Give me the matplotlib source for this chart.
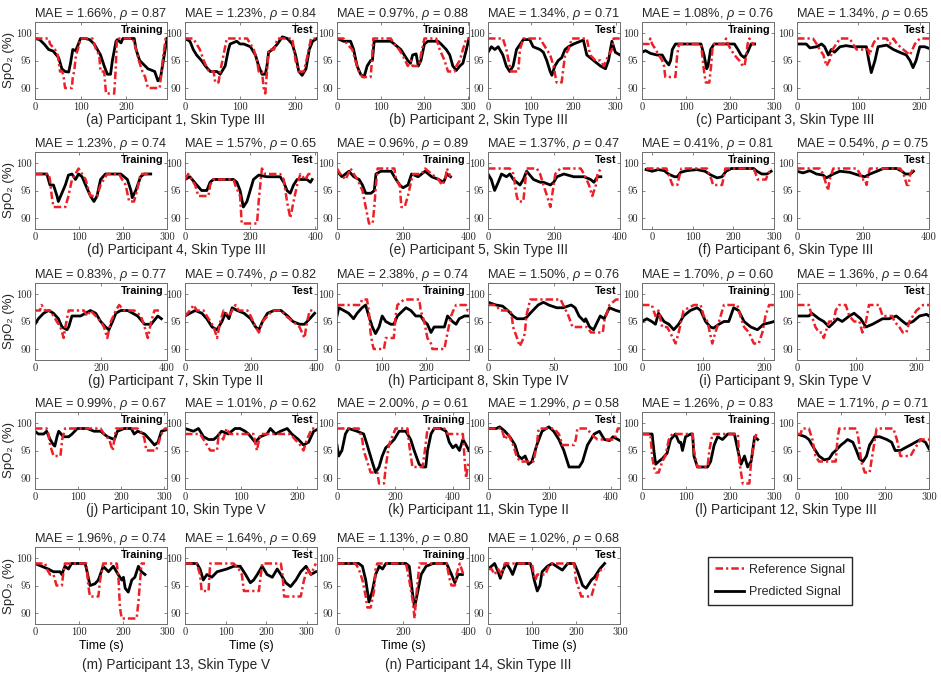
import matplotlib

matplotlib.use("Agg")
import matplotlib.pyplot as plt
from matplotlib.lines import Line2D
from matplotlib.ticker import MultipleLocator

# ---- data: (time s, SpO2 %) pairs ----
A_TRAIN_PRED = [(0, 99), (10, 98.8), (20, 98), (30, 97), (40, 96.7), (52, 95.5), (59, 93.5), (66, 93), (74, 92.9), (78, 94.5), (83, 97), (89, 96.8), (93, 97.5), (100, 99), (110, 99), (120, 98.8), (130, 98), (137, 97), (144, 96), (152, 94), (159, 92.5), (166, 92.5), (170, 95), (178, 98.5), (181, 98.8), (189, 98.2), (193, 99), (218, 99), (222, 97), (230, 95), (248, 93.5), (263, 93), (270, 91.3), (276, 92), (282, 95), (286, 97), (290, 99)]
A_TRAIN_REF = [(0, 99), (30, 99), (33, 98), (44, 97), (50, 96), (55, 93), (60, 93), (63, 92), (66, 90), (81, 90), (83, 92), (86, 93), (90, 96), (94, 97), (100, 99), (126, 99), (130, 98), (134, 97), (141, 96), (144, 93), (152, 93), (156, 89), (174, 89), (177, 93), (180, 99), (215, 99), (222, 97), (228, 95), (236, 93), (242, 92), (248, 90), (274, 90), (278, 93), (282, 96), (287, 99), (290, 99)]
A_TEST_PRED = [(0, 99), (9, 98.5), (15, 97), (21, 96), (30, 95), (37, 94), (46, 93), (58, 93), (64, 92.5), (73, 94), (79, 97), (82, 98), (94, 98.5), (100, 98), (107, 98), (119, 97.5), (128, 96), (134, 94), (140, 92.5), (146, 92.5), (149, 94), (152, 96.5), (159, 97), (168, 98), (177, 99.3), (186, 99), (195, 98), (201, 96), (207, 93), (213, 92.3), (220, 93.5), (226, 97), (232, 98.5), (240, 99)]
A_TEST_REF = [(0, 99), (15, 99), (21, 98), (27, 97), (34, 95), (43, 93), (52, 93), (55, 91), (61, 91), (64, 93), (70, 96), (76, 99), (113, 99), (119, 98), (125, 97), (131, 95), (134, 93), (140, 93), (143, 90), (146, 89), (149, 93), (152, 97), (162, 97), (165, 98), (168, 99), (195, 99), (198, 97), (201, 95), (207, 93), (216, 93), (223, 96), (229, 99), (240, 99)]

B_TRAIN_PRED = [(0, 99), (15, 98.5), (31, 98.5), (38, 97), (46, 94), (54, 92.5), (62, 92), (69, 94), (77, 95), (81, 95), (85, 98.5), (92, 98.5), (123, 98.5), (131, 98), (146, 97), (154, 96), (162, 95), (168, 94.5), (173, 96), (181, 96.2), (186, 94), (192, 95), (200, 98), (208, 98.5), (231, 98.5), (238, 98), (250, 97), (258, 96), (265, 94), (273, 93.2), (281, 94), (288, 94.5), (296, 97), (302, 99)]
B_TRAIN_REF = [(0, 99), (15, 99), (23, 98), (35, 97), (42, 95), (50, 93), (58, 92), (77, 92), (80, 95), (83, 99), (123, 99), (131, 98), (142, 97), (150, 96), (162, 94), (169, 95), (173, 94), (188, 94), (192, 96), (200, 99), (227, 99), (235, 97), (246, 95), (254, 93), (269, 93), (273, 94), (281, 95), (288, 97), (296, 99), (302, 99)]
B_TEST_PRED = [(0, 96.5), (8, 97.5), (16, 97), (24, 97.5), (35, 96), (43, 94), (51, 93), (59, 94), (67, 97), (83, 98.8), (98, 98.8), (106, 97.5), (122, 97), (130, 96.5), (138, 95), (146, 93), (150, 92.3), (157, 94), (165, 95), (173, 95.5), (181, 97), (189, 97.5), (201, 98), (217, 98.5), (224, 98.7), (232, 96), (248, 95), (256, 94.5), (264, 94), (276, 93.5), (283, 95), (291, 98.5), (299, 96.5), (310, 96)]
B_TEST_REF = [(0, 99), (35, 99), (43, 97), (51, 94), (55, 93), (71, 93), (75, 97), (83, 99), (122, 99), (130, 98), (138, 97), (146, 96), (154, 94), (161, 91), (173, 91), (176, 93), (181, 96), (189, 97), (197, 99), (232, 99), (240, 96), (252, 95), (264, 95), (272, 94), (283, 96), (291, 97), (295, 99), (310, 99)]

C_TRAIN_PRED = [(0, 96.5), (8, 96.8), (19, 96.3), (34, 96), (46, 96), (53, 95), (61, 94.2), (65, 95), (69, 97), (76, 98), (134, 98), (141, 96), (147, 93.5), (150, 94), (156, 97), (164, 98), (210, 98), (218, 97), (225, 96), (233, 95.5), (240, 96.5), (248, 98), (256, 98)]
C_TRAIN_REF = [(0, 98), (15, 98), (19, 99), (23, 98), (31, 97), (38, 96), (46, 95), (50, 94), (53, 92), (76, 92), (80, 96), (84, 98), (134, 98), (137, 96), (141, 93), (145, 91), (153, 91), (157, 94), (160, 97), (164, 98), (187, 98), (191, 99), (195, 98), (202, 97), (210, 96), (221, 95), (229, 94), (233, 94), (237, 96), (240, 98), (244, 99), (252, 98), (256, 98)]
C_TEST_PRED = [(0, 98), (15, 98), (21, 97.3), (32, 97.5), (40, 98), (45, 97.5), (51, 96), (56, 97), (61, 96.5), (70, 97.5), (80, 97.7), (91, 97.5), (113, 97.5), (117, 95), (121, 92.8), (127, 95), (132, 97.5), (146, 97.8), (157, 97), (167, 96.5), (178, 96), (184, 95), (189, 93.7), (194, 95), (200, 97.5), (208, 97.5), (215, 97.2)]
C_TEST_REF = [(0, 99), (26, 99), (32, 98), (37, 97), (43, 96), (48, 94), (53, 95), (58, 97), (64, 98), (70, 99), (86, 99), (91, 98), (97, 97), (116, 97), (118, 96), (124, 98), (129, 99), (146, 99), (151, 98), (157, 99), (163, 98), (173, 97), (184, 96), (192, 98), (200, 99), (215, 99)]

D_TRAIN_PRED = [(0, 98), (27, 98), (34, 96), (42, 96), (50, 94), (53, 93), (61, 94.5), (69, 96), (76, 97.8), (84, 98), (92, 97), (99, 98), (107, 97.5), (115, 96), (126, 94), (134, 93), (141, 94), (149, 97), (160, 98), (195, 98), (210, 97), (218, 95), (221, 93.7), (229, 95), (240, 97.5), (248, 98), (263, 98)]
D_TRAIN_REF = [(0, 98), (31, 98), (34, 97), (38, 94), (42, 92), (69, 92), (76, 94), (84, 97), (92, 98), (99, 99), (107, 98), (115, 97), (122, 95), (126, 94), (141, 94), (149, 96), (156, 97), (164, 98), (191, 98), (198, 97), (206, 96), (214, 93), (225, 93), (232, 95), (240, 98), (263, 98)]
D_TEST_PRED = [(0, 97), (15, 97.5), (36, 96), (51, 95), (67, 95), (77, 96.5), (87, 97), (149, 97), (159, 96.5), (169, 95), (179, 92), (190, 93), (200, 95), (210, 97), (226, 97.8), (251, 97.5), (292, 97.5), (303, 96.5), (313, 95), (323, 94.5), (333, 96), (344, 97), (374, 97), (385, 96.5), (390, 97)]
D_TEST_REF = [(0, 97), (10, 98), (20, 97), (31, 96), (41, 94), (72, 94), (77, 96), (87, 97), (149, 97), (154, 96), (169, 94), (174, 89), (221, 89), (226, 93), (231, 96), (236, 99), (246, 98), (292, 98), (303, 97), (313, 93), (323, 90), (333, 93), (344, 96), (354, 98), (369, 97), (379, 98), (385, 98)]

E_TRAIN_PRED = [(0, 98.5), (15, 97.5), (36, 98.5), (51, 97.5), (67, 97), (77, 96), (87, 94.5), (103, 94.5), (113, 95), (118, 98), (133, 98.5), (164, 98.5), (179, 97), (190, 96), (200, 95.5), (215, 96), (226, 98), (246, 97.5), (267, 98.5), (287, 97.5), (308, 97), (323, 96.5), (333, 98), (344, 97.5)]
E_TRAIN_REF = [(0, 99), (10, 98), (26, 97), (41, 99), (51, 98), (62, 97), (77, 95), (87, 92), (97, 89), (108, 89), (113, 92), (118, 96), (123, 99), (174, 99), (179, 97), (190, 96), (195, 92), (205, 92), (215, 94), (226, 97), (231, 98), (256, 98), (267, 99), (287, 98), (308, 97), (318, 96), (328, 97), (333, 99), (344, 97.5)]
E_TEST_PRED = [(0, 98), (10, 97), (20, 95), (31, 96.5), (41, 98), (56, 97.5), (66, 98), (77, 97), (87, 96.5), (97, 96), (107, 97), (117, 98.5), (138, 97), (158, 96.5), (168, 96.5), (189, 96), (199, 96.5), (209, 97.5), (230, 98), (260, 97.5), (291, 97.5), (311, 97), (321, 96.5), (332, 97.5), (342, 97.5)]
E_TEST_REF = [(0, 99), (66, 99), (77, 98), (87, 94), (92, 93), (107, 93), (112, 96), (117, 99), (148, 99), (158, 98), (168, 96), (179, 94), (189, 92), (194, 94), (204, 98), (219, 99), (281, 99), (291, 98), (306, 96), (316, 94), (327, 96), (332, 98), (342, 99)]

F_TRAIN_PRED = [(-15, 98.8), (0, 98.5), (15, 98.8), (30, 98.6), (40, 98), (55, 97.5), (62, 97.5), (70, 98.3), (85, 98.6), (110, 98.8), (130, 98.5), (145, 97.8), (160, 97.3), (172, 97.5), (182, 98.5), (195, 99), (250, 99), (258, 98.5), (270, 98), (283, 98), (293, 98.5)]
F_TRAIN_REF = [(-15, 99), (35, 99), (40, 98), (45, 97), (50, 96), (62, 96), (65, 97), (72, 99), (135, 99), (140, 98), (146, 97), (150, 96), (172, 96), (175, 97), (180, 99), (250, 99), (255, 98), (260, 97), (280, 97), (285, 98), (293, 99)]
F_TEST_PRED = [(0, 98.5), (18, 98.2), (39, 98.6), (59, 98), (79, 97.8), (89, 97.3), (110, 98), (130, 98.5), (160, 98.3), (191, 97.7), (206, 97.5), (221, 98), (242, 98.5), (262, 99), (302, 99), (318, 98.5), (328, 98), (343, 98), (353, 98.5)]
F_TEST_REF = [(0, 99), (69, 99), (79, 98), (84, 97), (94, 95), (99, 97), (110, 99), (181, 99), (191, 98), (196, 97), (206, 97), (211, 96), (216, 98), (221, 99), (313, 99), (323, 98), (328, 97), (333, 96), (338, 96), (343, 98), (353, 99)]

G_TRAIN_PRED = [(0, 94.5), (10, 95.5), (26, 96.5), (41, 97), (56, 96.5), (71, 95.5), (82, 94), (97, 93.5), (102, 94), (112, 96), (138, 96), (153, 96.5), (168, 97), (184, 96.5), (199, 95), (214, 94), (224, 93.5), (235, 95), (245, 96.5), (260, 97), (281, 97), (311, 96), (332, 94.5), (352, 94.5), (372, 96), (383, 95.5)]
G_TRAIN_REF = [(0, 97), (15, 97), (20, 98), (31, 97), (46, 97), (56, 96), (66, 95), (77, 94), (82, 93), (87, 92), (92, 94), (102, 97), (148, 97), (158, 96), (168, 97), (184, 96), (199, 95), (209, 94), (214, 93), (219, 92), (230, 95), (245, 97), (255, 98), (270, 97), (301, 97), (321, 96), (332, 94), (342, 92), (352, 95), (362, 97), (383, 97)]
G_TEST_PRED = [(0, 96), (15, 96.5), (31, 97), (51, 96.5), (66, 95.5), (82, 94), (97, 93.5), (112, 95), (122, 96.5), (133, 95.5), (143, 97.5), (158, 97), (179, 96.5), (199, 95.5), (214, 94), (224, 93.5), (235, 95), (250, 96.5), (270, 97), (291, 97), (311, 96), (327, 95), (347, 94.5), (362, 94.5), (378, 95.5), (393, 96.5)]
G_TEST_REF = [(0, 96), (15, 97), (26, 98), (36, 97), (56, 97), (66, 96), (77, 95), (87, 94), (97, 92), (107, 95), (117, 97), (133, 96), (153, 98), (163, 97), (189, 97), (199, 96), (214, 94), (224, 93), (235, 95), (250, 96), (265, 97), (291, 97), (306, 96), (327, 95), (347, 94), (362, 92), (370, 95), (378, 97), (388, 97)]

H_TRAIN_PRED = [(0, 96), (4, 97.5), (15, 97), (26, 96.5), (37, 95.5), (45, 96.5), (56, 97.5), (64, 98), (71, 96), (79, 94), (86, 92.8), (94, 94), (101, 96), (109, 95), (120, 94.5), (127, 94.5), (135, 96), (154, 97.5), (165, 97), (176, 96), (187, 96), (195, 95), (202, 94.5), (210, 93), (217, 94), (240, 94), (247, 96), (258, 95), (266, 94.5), (273, 95.5), (285, 96), (295, 96)]
H_TRAIN_REF = [(0, 98), (52, 98), (56, 99), (67, 99), (71, 97), (75, 93), (79, 91), (82, 90), (105, 90), (109, 92), (127, 92), (131, 96), (135, 98), (150, 99), (184, 99), (187, 97), (195, 95), (202, 92), (210, 91), (213, 90), (240, 90), (247, 93), (255, 96), (260, 97), (266, 98), (288, 98), (292, 97), (295, 97)]
H_TEST_PRED = [(0, 98.5), (6, 98), (11, 97.8), (15, 97), (19, 96), (22, 95.5), (27, 95.5), (29, 95.7), (32, 96.5), (36, 97.5), (38, 98), (42, 98.5), (46, 98), (52, 97.5), (57, 97.5), (63, 98), (66, 97.5), (69, 96), (73, 95), (74, 95.5), (77, 94), (80, 93.5), (83, 95), (85, 96), (88, 95.5), (92, 97.5), (97, 97), (100, 96.8)]
H_TEST_REF = [(0, 98), (6, 98), (9, 97), (17, 97), (18, 96), (19, 94), (22, 92), (24, 90.5), (27, 92), (28, 93), (29, 96), (32, 99), (55, 99), (57, 98), (61, 96), (64, 94), (75, 94), (78, 93), (87, 93), (88, 95), (92, 98), (97, 99), (100, 99)]

I_TRAIN_PRED = [(0, 95), (8, 95.5), (16, 95), (22, 94.5), (27, 96.5), (36, 95), (44, 94.5), (52, 93.5), (60, 94.5), (68, 96), (79, 97), (90, 97.5), (96, 97), (104, 95), (112, 94), (117, 93.8), (126, 94.5), (134, 95), (142, 95), (150, 97.5), (158, 97), (167, 95), (178, 94), (189, 93.5), (199, 94.5), (210, 94.8), (216, 95)]
I_TRAIN_REF = [(0, 98), (16, 98), (22, 96), (27, 97), (33, 94), (41, 94), (46, 93), (55, 91), (60, 93), (68, 97), (85, 98), (96, 98), (101, 96), (107, 95), (115, 91), (120, 93), (126, 95), (134, 98), (156, 98), (161, 96), (167, 94), (175, 93), (183, 91), (191, 91), (197, 93), (202, 96), (208, 98), (216, 98)]
I_TEST_PRED = [(0, 96), (20, 96), (25, 96.5), (37, 95.5), (45, 95), (54, 94), (59, 94.5), (68, 95.5), (76, 95), (88, 96), (96, 96.5), (107, 95.5), (116, 94), (127, 94.5), (144, 95.5), (155, 95.5), (167, 96), (178, 95), (184, 94.5), (195, 95), (206, 96), (218, 96.3), (222, 96)]
I_TEST_REF = [(0, 98), (20, 98), (25, 96), (31, 94), (37, 93), (42, 93), (45, 92), (51, 94), (54, 95), (62, 95), (65, 97), (71, 98), (82, 98), (88, 96), (96, 95), (105, 95), (110, 93), (116, 95), (121, 98), (138, 98), (144, 96), (160, 96), (164, 95), (172, 94), (178, 93), (184, 93), (189, 95), (201, 97), (212, 98), (222, 98)]

J_TRAIN_PRED = [(0, 98.5), (8, 98), (20, 98), (27, 98.5), (35, 97), (43, 96), (46, 95.8), (51, 97.5), (55, 98.5), (66, 97.5), (78, 97.5), (86, 98), (98, 99), (121, 99), (137, 98.5), (152, 98.5), (168, 97.5), (184, 97), (191, 98.5), (207, 99), (223, 99), (230, 98), (238, 98.5), (254, 98), (266, 97), (277, 96), (285, 96.5), (293, 98.5), (306, 98.8)]
J_TRAIN_REF = [(0, 99), (27, 99), (31, 98), (35, 96), (43, 94), (59, 94), (63, 97), (70, 99), (152, 99), (160, 98), (172, 97), (180, 95), (184, 97), (188, 99), (238, 99), (250, 98), (254, 97), (258, 95), (281, 95), (285, 96), (293, 98), (301, 99), (306, 99)]
J_TEST_PRED = [(0, 99), (15, 98.5), (24, 99), (33, 97.5), (42, 97), (51, 97), (57, 97.5), (65, 98.5), (77, 98), (89, 99), (98, 99), (107, 98.5), (113, 98), (125, 96.5), (134, 97.5), (146, 98), (152, 99), (161, 98), (170, 98.5), (182, 99), (190, 98), (202, 97), (211, 96), (220, 96.5), (229, 98.5), (235, 98.8)]
J_TEST_REF = [(0, 98), (27, 98), (33, 97), (39, 96), (45, 95), (57, 95), (60, 98), (68, 97), (74, 99), (80, 98), (122, 98), (128, 95), (134, 98), (188, 98), (196, 97), (205, 96), (211, 95), (217, 97), (226, 99), (235, 99)]

K_TRAIN_PRED = [(0, 96), (6, 94), (17, 95), (29, 98), (40, 99), (69, 98.5), (92, 98), (104, 96), (121, 93), (133, 91), (145, 92), (156, 94), (168, 95.5), (179, 96), (197, 97), (214, 98.5), (237, 98.5), (254, 97), (266, 95), (283, 92.5), (295, 92), (306, 92), (312, 95), (324, 98), (335, 99), (358, 99), (376, 98.5), (387, 96.5), (399, 95.5), (410, 96), (422, 95), (434, 97), (445, 96), (455, 95)]
K_TRAIN_REF = [(0, 99), (75, 99), (87, 97), (92, 95), (104, 93), (116, 91), (139, 91), (145, 89), (162, 89), (168, 92), (179, 96), (202, 99), (243, 99), (249, 96), (260, 92), (295, 92), (303, 95), (312, 99), (370, 99), (382, 98), (434, 98), (439, 94), (445, 90), (450, 92), (455, 93)]
K_TEST_PRED = [(0, 99), (27, 99), (38, 99.3), (55, 98.5), (71, 97.5), (88, 96), (99, 94), (110, 93.5), (121, 94), (132, 92.5), (143, 93), (159, 96), (176, 98.5), (198, 99.3), (214, 98.5), (231, 97), (247, 95), (264, 92), (297, 92), (308, 93), (324, 96), (346, 98), (363, 98.5), (379, 97), (396, 96.8), (407, 97.5), (430, 96.8)]
K_TEST_REF = [(0, 99), (44, 99), (55, 97), (66, 98), (82, 96), (93, 94), (104, 93), (148, 93), (159, 96), (165, 99), (214, 99), (231, 98), (242, 96), (280, 96), (286, 97), (291, 99), (324, 99), (335, 98), (357, 97), (412, 97), (423, 99), (430, 99)]

L_TRAIN_PRED = [(0, 98), (23, 98), (27, 95), (31, 92.5), (38, 93), (46, 93.5), (57, 94.5), (65, 97), (76, 98), (84, 96.5), (88, 96.5), (92, 95), (99, 97.5), (111, 98), (115, 98), (118, 94), (126, 92), (149, 92), (156, 93), (164, 96), (172, 97.5), (183, 97), (195, 98), (210, 98), (218, 95), (225, 92.5), (233, 94), (240, 92), (248, 93), (256, 97.5), (263, 97)]
L_TRAIN_REF = [(0, 98), (19, 98), (23, 94), (27, 92), (31, 91), (38, 91), (46, 93), (53, 94), (61, 97), (69, 98), (115, 98), (118, 95), (126, 92), (149, 92), (153, 95), (160, 98), (218, 98), (221, 93), (225, 91), (229, 89), (244, 89), (248, 93), (256, 97), (260, 98)]
L_TEST_PRED = [(0, 98), (19, 97.5), (27, 97), (38, 95.5), (50, 94), (62, 93.3), (73, 93.5), (81, 94.5), (88, 95), (100, 96), (108, 96.5), (115, 97), (127, 96.5), (135, 95), (142, 93.5), (150, 93), (158, 94), (165, 96), (177, 97.5), (188, 97.5), (204, 97), (215, 96.5), (223, 95), (235, 95), (246, 95.5), (258, 96), (269, 96.5), (281, 97), (292, 96.5), (300, 95.3)]
L_TEST_REF = [(0, 98), (8, 98), (12, 99), (27, 99), (35, 97), (42, 94), (50, 93), (88, 93), (92, 97), (96, 99), (135, 99), (140, 97), (146, 93), (154, 91), (165, 91), (173, 95), (181, 99), (219, 99), (227, 97), (235, 94), (258, 94), (265, 95), (281, 97), (300, 97)]

M_TRAIN_PRED = [(0, 99), (15, 98.5), (30, 98), (42, 97.5), (57, 97.5), (61, 97), (68, 98.5), (76, 98), (83, 99), (114, 99), (117, 98), (125, 95), (136, 95.3), (144, 96), (155, 98.5), (167, 97.5), (178, 98.5), (189, 97), (197, 96), (201, 96.5), (205, 94.5), (212, 93.8), (220, 96), (227, 96.5), (235, 98.5), (242, 97.5), (250, 97)]
M_TRAIN_REF = [(0, 99), (23, 99), (27, 98), (34, 97), (42, 97), (49, 95), (61, 95), (64, 97), (68, 99), (117, 99), (121, 95), (125, 93), (144, 93), (148, 96), (155, 99), (186, 99), (190, 96), (193, 91), (197, 89), (231, 89), (235, 92), (239, 96), (242, 99), (250, 99)]
M_TEST_PRED = [(0, 99), (29, 99), (37, 98), (45, 96), (54, 97), (66, 96.5), (79, 97.5), (103, 98), (120, 98.5), (136, 98.5), (149, 97), (161, 95.5), (169, 96), (178, 97), (190, 98.5), (202, 97), (215, 96.5), (227, 98), (236, 97), (248, 95.5), (260, 94.8), (273, 96), (285, 97.5), (298, 98.5), (310, 97), (322, 97.5)]
M_TEST_REF = [(0, 99), (29, 99), (37, 97), (41, 94), (58, 94), (62, 99), (120, 99), (132, 98), (140, 97), (145, 94), (182, 94), (190, 99), (236, 99), (240, 97), (244, 93), (285, 93), (293, 96), (302, 98), (310, 97), (322, 99)]

N_TRAIN_PRED = [(0, 99), (66, 99), (77, 98.5), (87, 96), (97, 92), (107, 94), (117, 97), (128, 98.5), (138, 98), (148, 99), (209, 99), (219, 98.5), (228, 94), (235, 91), (245, 94), (255, 97), (270, 98.5), (291, 99), (332, 99), (347, 97), (357, 95.5), (367, 97), (380, 97)]
N_TRAIN_REF = [(0, 99), (56, 99), (66, 98), (77, 96), (87, 93), (92, 91), (102, 91), (112, 94), (117, 98), (122, 99), (209, 99), (219, 96), (230, 92), (235, 89), (240, 93), (245, 96), (250, 99), (332, 99), (342, 96), (347, 95), (357, 95), (362, 97), (372, 99), (383, 97)]
N_TEST_PRED = [(0, 98), (8, 98.5), (15, 99), (23, 97.5), (28, 96.3), (35, 98), (42, 99), (50, 98), (56, 97), (65, 99), (96, 99), (100, 98), (105, 96), (112, 94), (118, 95), (123, 97.5), (135, 98.5), (146, 99), (169, 97.8), (181, 99), (196, 99), (204, 97.5), (215, 95), (223, 94.5), (235, 96), (242, 96.5), (254, 98), (265, 99)]
N_TEST_REF = [(0, 98), (8, 98), (15, 97), (23, 98), (31, 97), (38, 99), (100, 99), (104, 97), (108, 96), (112, 97), (131, 97), (135, 98), (142, 99), (196, 99), (200, 96), (208, 94), (212, 93), (235, 93), (242, 95), (250, 97), (258, 98), (265, 98)]

# metrics shown in the panel titles, in panel order (train, test per participant)
MAE = [1.66, 1.23, 0.97, 1.34, 1.08, 1.34,
       1.23, 1.57, 0.96, 1.37, 0.41, 0.54,
       0.83, 0.74, 2.38, 1.50, 1.70, 1.36,
       0.99, 1.01, 2.00, 1.29, 1.26, 1.71,
       1.96, 1.64, 1.13, 1.02]
RHO = [0.87, 0.84, 0.88, 0.71, 0.76, 0.65,
       0.74, 0.65, 0.89, 0.47, 0.81, 0.75,
       0.77, 0.82, 0.74, 0.76, 0.60, 0.64,
       0.67, 0.62, 0.61, 0.58, 0.83, 0.71,
       0.74, 0.69, 0.80, 0.68]
SKIN_TYPES = ["III", "III", "III", "III", "III", "III", "II",
              "IV", "V", "V", "II", "III", "V", "III"]
LETTERS = "abcdefghijklmn"

# x range of each panel (seconds)
XLIMS = [(0, 290), (0, 240), (0, 302), (0, 310), (0, 300), (0, 215),
         (0, 300), (0, 405), (0, 400), (0, 400), (-25, 300), (0, 400),
         (0, 400), (0, 400), (0, 295), (0, 100), (0, 216), (0, 222),
         (0, 306), (0, 235), (0, 455), (0, 430), (0, 300), (0, 300),
         (0, 300), (0, 325), (0, 400), (0, 300)]

PANEL_DATA = [
    (A_TRAIN_REF, A_TRAIN_PRED), (A_TEST_REF, A_TEST_PRED),
    (B_TRAIN_REF, B_TRAIN_PRED), (B_TEST_REF, B_TEST_PRED),
    (C_TRAIN_REF, C_TRAIN_PRED), (C_TEST_REF, C_TEST_PRED),
    (D_TRAIN_REF, D_TRAIN_PRED), (D_TEST_REF, D_TEST_PRED),
    (E_TRAIN_REF, E_TRAIN_PRED), (E_TEST_REF, E_TEST_PRED),
    (F_TRAIN_REF, F_TRAIN_PRED), (F_TEST_REF, F_TEST_PRED),
    (G_TRAIN_REF, G_TRAIN_PRED), (G_TEST_REF, G_TEST_PRED),
    (H_TRAIN_REF, H_TRAIN_PRED), (H_TEST_REF, H_TEST_PRED),
    (I_TRAIN_REF, I_TRAIN_PRED), (I_TEST_REF, I_TEST_PRED),
    (J_TRAIN_REF, J_TRAIN_PRED), (J_TEST_REF, J_TEST_PRED),
    (K_TRAIN_REF, K_TRAIN_PRED), (K_TEST_REF, K_TEST_PRED),
    (L_TRAIN_REF, L_TRAIN_PRED), (L_TEST_REF, L_TEST_PRED),
    (M_TRAIN_REF, M_TRAIN_PRED), (M_TEST_REF, M_TEST_PRED),
    (N_TRAIN_REF, N_TRAIN_PRED), (N_TEST_REF, N_TEST_PRED),
]

RED = "#ec2027"
TEXT = "#262626"
W, H = 941, 675
COL_LEFT = [35, 185, 337, 488, 642, 797]
ROW_TOP = [22, 152, 283, 412, 547]
AX_W, AX_H = 132, 77
REF_DASH = (0, (3.0, 1.2, 0.9, 1.2))


def main() -> None:
    plt.rcParams.update(
        {
            "font.family": ["Liberation Sans", "DejaVu Sans"],
            "mathtext.fontset": "custom",
            "mathtext.rm": "Liberation Sans",
            "mathtext.it": "Liberation Sans:italic",
            "text.color": TEXT,
            "axes.edgecolor": "#6e6e6e",
            "axes.linewidth": 0.7,
        }
    )
    fig = plt.figure(figsize=(W / 100, H / 100), dpi=100)

    for i, (ref, pred) in enumerate(PANEL_DATA):
        row, col = divmod(i, 6)
        left = COL_LEFT[col] / W
        bottom = 1 - (ROW_TOP[row] + AX_H) / H
        ax = fig.add_axes([left, bottom, AX_W / W, AX_H / H])

        ax.plot([p[0] for p in pred], [p[1] for p in pred],
                color="black", linewidth=2.0, solid_joinstyle="round")
        ax.plot([p[0] for p in ref], [p[1] for p in ref],
                color=RED, linewidth=1.8, linestyle=REF_DASH)

        x0, x1 = XLIMS[i]
        ax.set_xlim(x0, x1)
        ax.set_ylim(88, 102)
        span = x1 - max(x0, 0)
        step = 50 if span <= 100 else (200 if span >= 400 else 100)
        ax.xaxis.set_major_locator(MultipleLocator(step))
        ax.set_yticks([90, 95, 100])
        ax.tick_params(direction="in", length=2, width=0.6, color="#6e6e6e",
                       top=True, right=True, labelsize=7.6, pad=2.5,
                       labelcolor=TEXT, labelfontfamily="cmr10")

        ax.set_title(f"MAE = {MAE[i]:.2f}%, $\\rho$ = {RHO[i]:.2f}",
                     fontsize=9.2, pad=3.5, color=TEXT)
        ax.text(0.975, 0.965, "Training" if i % 2 == 0 else "Test",
                transform=ax.transAxes, ha="right", va="top",
                fontsize=7.8, fontweight="bold", color="black")

        if col == 0:
            fig.text(9 / W, 1 - (ROW_TOP[row] + AX_H / 2) / H, "SpO₂ (%)",
                     rotation=90, ha="center", va="center", fontsize=9.5)
        if row == 4:
            ax.set_xlabel("Time (s)", fontsize=8.8, labelpad=2)

        if i % 2 == 0:
            k = i // 2
            cx = (COL_LEFT[col] + COL_LEFT[col + 1] + AX_W) / 2 / W
            drop = 41 if row == 4 else 21
            cy = 1 - (ROW_TOP[row] + AX_H + drop) / H
            fig.text(cx, cy, f"({LETTERS[k]}) Participant {k + 1}, "
                     f"Skin Type {SKIN_TYPES[k]}",
                     ha="center", va="center", fontsize=9.8)

    handles = [
        Line2D([], [], color=RED, linewidth=1.8, linestyle=REF_DASH),
        Line2D([], [], color="black", linewidth=2.0),
    ]
    fig.legend(handles, ["Reference Signal", "Predicted Signal"],
               loc="center", bbox_to_anchor=(780 / W, 1 - 581 / H),
               fontsize=9, frameon=True, fancybox=False, edgecolor=TEXT,
               framealpha=1, handlelength=2.3, handletextpad=0.45,
               borderpad=0.55, labelspacing=0.85)

    fig.savefig("out.png", dpi=100)


if __name__ == "__main__":
    main()
